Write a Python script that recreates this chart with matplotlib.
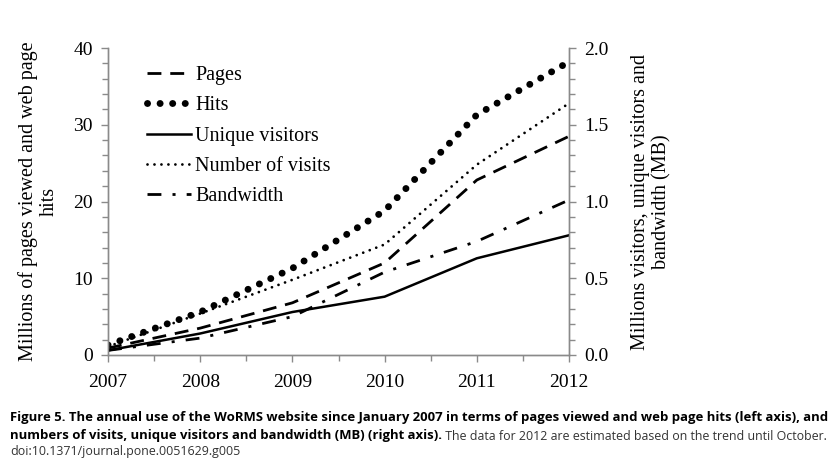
import matplotlib
matplotlib.use("Agg")
import matplotlib.pyplot as plt
from matplotlib.ticker import MultipleLocator, FormatStrFormatter

years = [2007, 2008, 2009, 2010, 2011, 2012]
pages = [0.9, 3.5, 6.8, 12.0, 22.8, 28.5]
hits = [1.3, 5.6, 11.3, 18.8, 31.3, 38.2]
unique_visitors = [0.03, 0.14, 0.28, 0.38, 0.63, 0.78]
number_of_visits = [0.055, 0.27, 0.49, 0.72, 1.24, 1.64]
bandwidth = [0.03, 0.11, 0.25, 0.54, 0.74, 1.01]

serif = ["Liberation Serif", "DejaVu Serif"]

fig = plt.figure(figsize=(8.38, 4.71), dpi=100)
ax = fig.add_axes([0.1289, 0.2463, 0.5501, 0.6517])
ax2 = ax.twinx()

l_pages, = ax.plot(years, pages, color="black", lw=2.0, linestyle=(0, (5, 3.2)),
                   dash_capstyle="butt", label="Pages")
l_hits, = ax.plot(years, hits, color="black", lw=5.0, linestyle=(0, (0.01, 1.8)),
                  dash_capstyle="round", label="Hits")
l_uv, = ax2.plot(years, unique_visitors, color="black", lw=1.8, linestyle="-",
                 label="Unique visitors")
l_nv, = ax2.plot(years, number_of_visits, color="black", lw=2.0,
                 linestyle=(0, (0.01, 2.5)), dash_capstyle="round",
                 label="Number of visits")
l_bw, = ax2.plot(years, bandwidth, color="black", lw=2.0,
                 linestyle=(0, (5, 4, 1.1, 4)), dash_capstyle="butt",
                 label="Bandwidth")

ax.set_xlim(2007, 2012)
ax.set_ylim(0, 40)
ax2.set_ylim(0, 2.0)

ax.xaxis.set_major_locator(MultipleLocator(1))
ax.xaxis.set_minor_locator(MultipleLocator(0.5))
ax.yaxis.set_major_locator(MultipleLocator(10))
ax.yaxis.set_minor_locator(MultipleLocator(2))
ax2.yaxis.set_major_locator(MultipleLocator(0.5))
ax2.yaxis.set_minor_locator(MultipleLocator(0.1))
ax2.yaxis.set_major_formatter(FormatStrFormatter("%.1f"))

spine_col = "#8a8a8a"
for a in (ax, ax2):
    a.spines["top"].set_visible(False)
    for s in ("left", "right", "bottom"):
        a.spines[s].set_color(spine_col)
        a.spines[s].set_linewidth(1.0)
    a.tick_params(which="both", direction="out", color=spine_col, width=1.0)
    a.tick_params(which="major", length=5)
    a.tick_params(which="minor", length=4)

for lab in ax.get_xticklabels() + ax.get_yticklabels() + ax2.get_yticklabels():
    lab.set_fontfamily(serif)
    lab.set_fontsize(14)
ax.tick_params(axis="x", pad=9)
ax.tick_params(axis="y", pad=6)
ax2.tick_params(axis="y", pad=6)

ax.set_ylabel("Millions of pages viewed and web page\nhits", fontfamily=serif,
              fontsize=14.5, linespacing=1.15, labelpad=10)
ax2.set_ylabel("Millions visitors, unique visitors and\nbandwidth (MB)", fontfamily=serif,
               fontsize=14.5, linespacing=1.15, labelpad=16)

leg = ax2.legend(handles=[l_pages, l_hits, l_uv, l_nv, l_bw], loc="upper left",
                 bbox_to_anchor=(0.045, 1.0), frameon=False,
                 prop={"family": serif, "size": 14.5}, handlelength=2.2,
                 handletextpad=0.2, labelspacing=0.55)

cap_font = ["Open Sans", "DejaVu Sans"]
cs = 9.45
cr = 8.9
fig.text(0.012, (471 - 418) / 471,
         "Figure 5. The annual use of the WoRMS website since January 2007 in terms of pages viewed and web page hits (left axis), and",
         fontfamily=cap_font, fontweight="bold", fontsize=cs, va="center", ha="left")
t2 = fig.text(0.012, (471 - 436) / 471,
              "numbers of visits, unique visitors and bandwidth (MB) (right axis).",
              fontfamily=cap_font, fontweight="bold", fontsize=cs, va="center", ha="left")
fig.canvas.draw()
bb = t2.get_window_extent(renderer=fig.canvas.get_renderer())
x_next = bb.x1 / fig.bbox.width
fig.text(x_next, (471 - 436) / 471,
         " The data for 2012 are estimated based on the trend until October.",
         fontfamily=cap_font, fontsize=cr, va="center", ha="left", color="#333333")
fig.text(0.012, (471 - 452) / 471, "doi:10.1371/journal.pone.0051629.g005",
         fontfamily=cap_font, fontsize=cr, va="center", ha="left", color="#333333")

fig.savefig("out.png", dpi=100)
